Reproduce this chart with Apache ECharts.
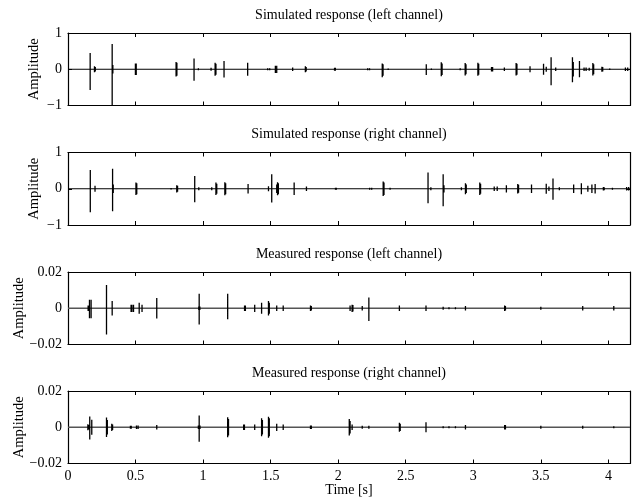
<!DOCTYPE html>
<html>
<head>
<meta charset="UTF-8">
<script src="https://cdn.jsdelivr.net/npm/echarts@6/dist/echarts.min.js"></script>
<style>body{margin:0;background:#fff}#main{width:638px;height:499px}</style>
</head>
<body>
<div id="main"></div>
<script>
var titles = ['Simulated response (left channel)', 'Simulated response (right channel)',
              'Measured response (left channel)', 'Measured response (right channel)'];
var tMax = 4.16;
var yLimits = [1, 1, 0.02, 0.02];

// simulated, left channel: spike times [s], positive and negative extent
var simLeftT = [0.164,0.196,0.202,0.327,0.332,0.499,0.505,0.800,0.806,0.933,0.965,1.059,1.089,1.095,1.155,1.330,
  1.478,1.493,1.535,1.545,1.663,1.757,1.763,1.973,1.979,2.218,2.232,2.326,2.332,2.370,2.652,2.690,2.763,2.769,
  2.903,2.940,2.946,3.034,3.040,3.135,3.143,3.230,3.317,3.323,3.420,3.520,3.540,3.576,3.610,3.734,3.740,3.786,
  3.820,3.835,3.858,3.885,3.891,3.952,3.958,4.010,4.126,4.143];
var simLeftUp = [0.45,0.08,0.06,0.70,0.12,0.16,0.16,0.20,0.18,0.30,0.03,0.04,0.18,0.15,0.23,0.18,
  0.03,0.03,0.10,0.10,0.05,0.08,0.06,0.04,0.04,0.03,0.03,0.16,0.14,0.02,0.14,0.02,0.19,0.16,
  0.03,0.17,0.14,0.18,0.15,0.06,0.06,0.05,0.17,0.15,0.08,0.15,0.07,0.33,0.05,0.33,0.20,0.23,
  0.05,0.05,0.04,0.17,0.14,0.07,0.06,0.02,0.05,0.05];
var simLeftDown = [0.57,0.08,0.06,1.00,0.12,0.16,0.16,0.20,0.18,0.32,0.03,0.04,0.18,0.15,0.23,0.18,
  0.03,0.03,0.10,0.10,0.05,0.08,0.06,0.04,0.04,0.03,0.03,0.22,0.18,0.02,0.16,0.02,0.19,0.16,
  0.03,0.17,0.14,0.18,0.15,0.06,0.06,0.05,0.17,0.15,0.08,0.15,0.07,0.44,0.05,0.36,0.20,0.22,
  0.05,0.05,0.04,0.17,0.14,0.07,0.06,0.02,0.05,0.05];

// simulated, right channel
var simRightT = [0.165,0.200,0.330,0.335,0.503,0.509,0.763,0.805,0.811,0.938,0.968,1.064,1.095,1.101,1.161,1.167,
  1.333,1.484,1.508,1.545,1.551,1.557,1.674,1.765,1.980,1.986,2.233,2.248,2.333,2.339,2.384,2.665,2.686,2.777,
  2.783,2.912,2.942,2.948,3.048,3.054,3.155,3.177,3.245,3.329,3.335,3.431,3.540,3.560,3.590,3.637,3.743,3.800,
  3.848,3.878,3.902,3.963,3.969,4.030,4.135,4.150];
var simRightUp = [0.52,0.08,0.55,0.12,0.17,0.15,0.02,0.10,0.08,0.35,0.04,0.04,0.17,0.14,0.18,0.15,
  0.13,0.07,0.40,0.12,0.18,0.15,0.17,0.06,0.03,0.03,0.03,0.03,0.20,0.17,0.03,0.45,0.04,0.40,
  0.10,0.04,0.15,0.12,0.17,0.14,0.06,0.06,0.10,0.13,0.11,0.12,0.14,0.06,0.28,0.04,0.12,0.15,
  0.08,0.12,0.13,0.05,0.04,0.03,0.05,0.05];
var simRightDown = [0.65,0.08,0.62,0.12,0.17,0.15,0.02,0.10,0.08,0.37,0.04,0.04,0.17,0.14,0.18,0.15,
  0.13,0.07,0.38,0.12,0.18,0.15,0.17,0.06,0.03,0.03,0.03,0.03,0.20,0.17,0.03,0.40,0.04,0.48,
  0.10,0.04,0.15,0.12,0.17,0.14,0.06,0.06,0.10,0.13,0.11,0.12,0.14,0.06,0.30,0.04,0.12,0.15,
  0.08,0.12,0.13,0.05,0.04,0.03,0.05,0.05];

// measured, left channel
var measLeftT = [0.149,0.155,0.159,0.171,0.285,0.327,0.467,0.473,0.485,0.527,0.548,0.657,0.968,0.971,0.976,
  1.182,1.307,1.313,1.382,1.433,1.484,1.490,1.545,1.593,1.795,1.801,2.088,2.103,2.109,2.178,2.227,2.453,
  2.650,2.777,2.820,2.868,2.942,3.232,3.238,3.500,3.810,4.040];
var measLeftUp = [0.0015,0.0012,0.0047,0.0047,0.0128,0.004,0.002,0.002,0.002,0.003,0.002,0.0057,0.001,0.008,0.001,
  0.008,0.0015,0.0015,0.002,0.003,0.004,0.003,0.0015,0.0015,0.0015,0.0012,0.0015,0.002,0.0018,0.0012,0.006,0.0015,
  0.0015,0.0008,0.0005,0.0005,0.0012,0.0015,0.0012,0.0008,0.0012,0.0012];
var measLeftDown = [0.0015,0.0012,0.0055,0.0055,0.0145,0.004,0.002,0.002,0.002,0.003,0.002,0.0057,0.001,0.009,0.001,
  0.006,0.0015,0.0015,0.002,0.003,0.004,0.003,0.0015,0.0015,0.0015,0.0012,0.0015,0.002,0.0018,0.0012,0.007,0.0015,
  0.0015,0.0008,0.0005,0.0005,0.0012,0.0015,0.0012,0.0008,0.0012,0.0012];

// measured, right channel
var measRightT = [0.147,0.153,0.161,0.176,0.285,0.291,0.324,0.330,0.462,0.468,0.507,0.519,0.657,0.965,0.971,0.977,
  1.182,1.188,1.300,1.306,1.382,1.433,1.439,1.484,1.490,1.545,1.593,1.795,1.801,2.082,2.088,2.103,2.178,2.227,
  2.453,2.459,2.650,2.777,2.820,2.868,2.942,3.232,3.238,3.500,3.810,4.040];
var measRightUp = [0.0016,0.0012,0.0059,0.0042,0.0054,0.004,0.002,0.0015,0.0008,0.0008,0.001,0.001,0.0012,0.001,0.0065,0.001,
  0.0055,0.0045,0.0015,0.0015,0.0015,0.005,0.004,0.0058,0.005,0.002,0.0015,0.001,0.001,0.0045,0.0035,0.0015,0.0008,0.0008,
  0.0025,0.002,0.0028,0.0005,0.0005,0.0005,0.0012,0.0012,0.0012,0.0008,0.0008,0.0006];
var measRightDown = [0.0016,0.0012,0.0067,0.0042,0.0054,0.004,0.002,0.0015,0.0008,0.0008,0.001,0.001,0.0012,0.001,0.008,0.001,
  0.0055,0.0045,0.0015,0.0015,0.0015,0.005,0.004,0.0058,0.005,0.002,0.0015,0.001,0.001,0.0045,0.0035,0.0015,0.0008,0.0008,
  0.0025,0.002,0.0028,0.0005,0.0005,0.0005,0.0012,0.0012,0.0012,0.0008,0.0008,0.0006];

var panels = [
  [simLeftT, simLeftUp, simLeftDown],
  [simRightT, simRightUp, simRightDown],
  [measLeftT, measLeftUp, measLeftDown],
  [measRightT, measRightUp, measRightDown]
];

var font = 'Liberation Serif';
var gridTops = [33, 152.5, 272, 391];
var gridH = 72.5;
var nameGaps = [26, 26, 41, 41];

function spikes(t, up, dn) {
  var d = [];
  for (var i = 0; i < t.length; i++) {
    d.push([t[i], up[i]], [t[i], -dn[i]], null);
  }
  return d;
}
function fmtY(v) {
  return v < 0 ? '\u2212' + Math.abs(v) : String(v);
}

var grids = [], xAxes = [], yAxes = [], series = [], graphics = [];
panels.forEach(function (p, i) {
  var last = i === panels.length - 1;
  var lim = yLimits[i];
  grids.push({ left: 68, right: 8, top: gridTops[i], height: gridH, containLabel: false, outerBoundsMode: 'none' });
  var lineStyle = { color: '#000', width: 1.2 };
  var xBase = {
    gridIndex: i, type: 'value', min: 0, max: tMax, interval: 0.5,
    axisLine: { onZero: false, lineStyle: lineStyle },
    axisTick: { inside: true, length: 4, lineStyle: { color: '#000' } },
    splitLine: { show: false }
  };
  xAxes.push(Object.assign({}, xBase, {
    position: 'bottom',
    axisLabel: { show: last, showMaxLabel: false, color: '#000', fontFamily: font, fontSize: 14, margin: 6 },
    name: last ? 'Time [s]' : '', nameLocation: 'middle', nameGap: 20, nameMoveOverlap: false,
    nameTextStyle: { color: '#000', fontFamily: font, fontSize: 14 }
  }));
  xAxes.push(Object.assign({}, xBase, { position: 'top', axisLabel: { show: false } }));
  var yBase = {
    gridIndex: i, type: 'value', min: -lim, max: lim, interval: lim,
    axisLine: { onZero: false, lineStyle: lineStyle },
    axisTick: { inside: true, length: 4, lineStyle: { color: '#000' } },
    splitLine: { show: false }
  };
  yAxes.push(Object.assign({}, yBase, {
    position: 'left',
    axisLabel: { color: '#000', fontFamily: font, fontSize: 14, margin: 6, formatter: fmtY },
    name: 'Amplitude', nameLocation: 'middle', nameGap: nameGaps[i], nameRotate: 90, nameMoveOverlap: false,
    nameTextStyle: { color: '#000', fontFamily: font, fontSize: 14.5 }
  }));
  yAxes.push(Object.assign({}, yBase, { position: 'right', axisLabel: { show: false } }));

  var measured = i >= 2;
  series.push({
    type: 'line', xAxisIndex: 2 * i, yAxisIndex: 2 * i, showSymbol: false, silent: true,
    data: [[0, 0], [tMax, 0]],
    lineStyle: { color: measured ? '#555' : '#000', width: measured ? 1.6 : 1 }
  });
  series.push({
    type: 'line', xAxisIndex: 2 * i, yAxisIndex: 2 * i, showSymbol: false, silent: true,
    connectNulls: false, data: spikes(p[0], p[1], p[2]),
    lineStyle: { color: '#000', width: 1.3 }
  });
  graphics.push({
    type: 'text', x: 349, y: gridTops[i] - 18,
    style: { text: titles[i], fill: '#000', font: '14px "' + font + '"', textAlign: 'center', textVerticalAlign: 'middle' }
  });
});

var chart = echarts.init(document.getElementById('main'), null, { renderer: 'canvas' });
chart.setOption({
  animation: false,
  backgroundColor: '#fff',
  grid: grids,
  xAxis: xAxes,
  yAxis: yAxes,
  series: series,
  graphic: graphics
});
</script>
</body>
</html>
